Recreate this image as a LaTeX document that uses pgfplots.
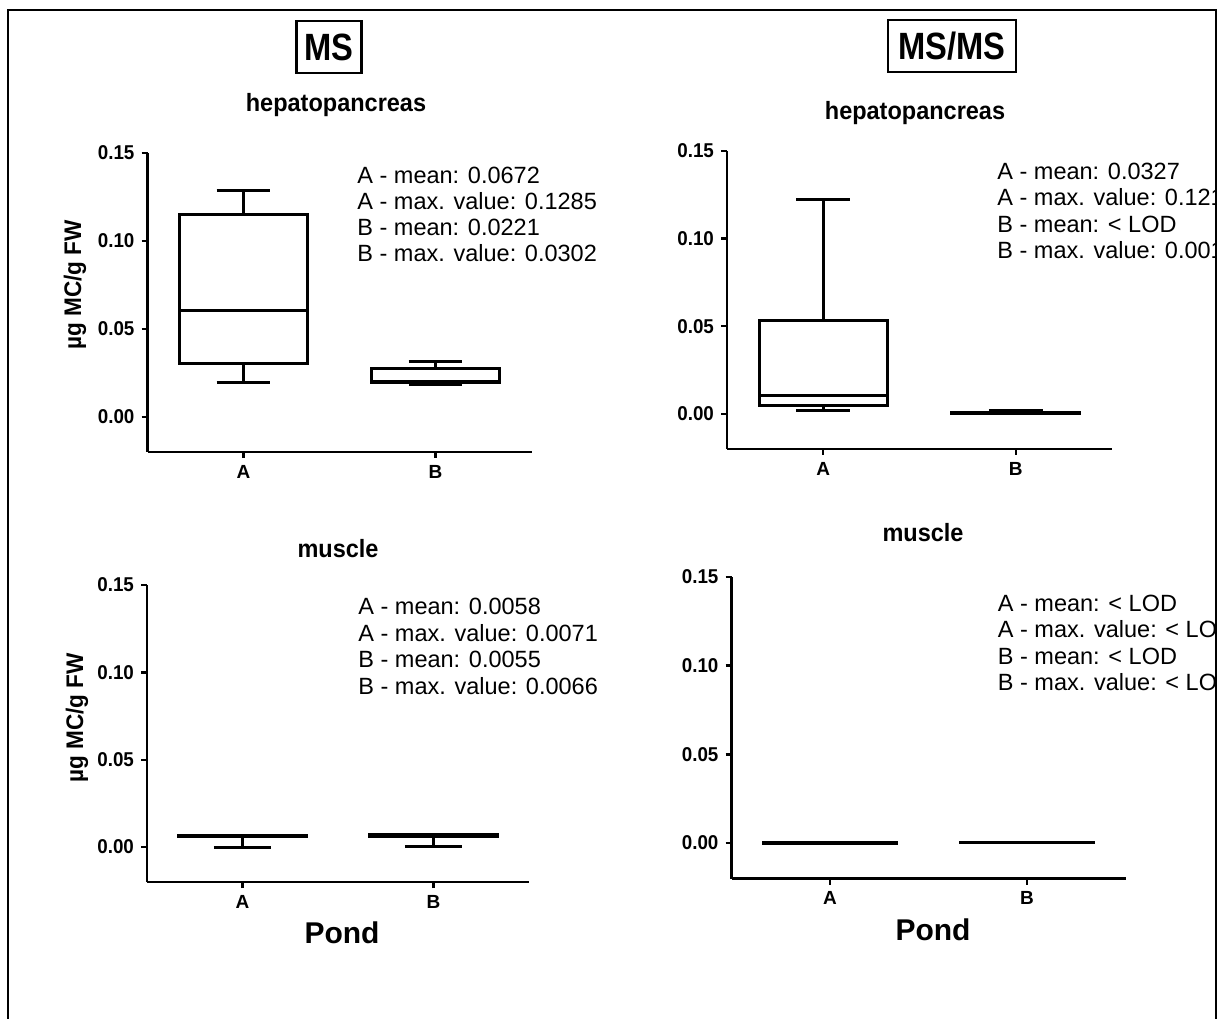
\documentclass[border=0pt]{standalone}
\usepackage{pgfplots}
\pgfplotsset{compat=1.18}
\usepgfplotslibrary{statistics}
\usepackage{fontspec}
\setmainfont{Liberation Sans}
\newfontfamily\condfont[FakeStretch=0.86]{Liberation Sans}
\newfontfamily\titlefont[FakeStretch=0.94]{Liberation Sans}

\pgfplotsset{
  mybox/.style={
    scale only axis,
    axis lines=left,
    axis line style={-, line width=1.2pt},
    xmin=-0.5, xmax=1.5, ymin=-0.02, ymax=0.15,
    xtick={0,1}, xticklabels={A,B},
    ytick={0,0.05,0.1,0.15}, yticklabels={0.00,0.05,0.10,0.15},
    tick align=outside, major tick length=3pt,
    tick style={line width=1.2pt, black},
    yticklabel style={font=\titlefont\bfseries\fontsize{10}{11}\selectfont},
    xticklabel style={font=\bfseries\fontsize{9.5}{10}\selectfont},
    clip=false,
    anchor=south west,
    boxplot/draw direction=y,
  },
  bp/.style={black, line width=1.5pt, solid, mark=none,
    boxplot/every median/.style={black, line width=1.4pt}},
}

\begin{document}
\begin{tikzpicture}
\useasboundingbox (0,0) rectangle (610pt,509pt);
\draw[line width=1pt] (4pt,-2pt) -- (4pt,504pt) -- (608pt,504pt) -- (608pt,-2pt);

% Panel 1: MS hepatopancreas
\begin{axis}[mybox, at={(73.75pt,283pt)}, width=192pt, height=149.5pt]
\addplot[bp, boxplot prepared={draw direction=y, draw position=0, lower whisker=0.0194, lower quartile=0.0305, median=0.0603, upper quartile=0.1152, upper whisker=0.1288, box extend=0.667, whisker extend=0.28}] coordinates {};
\addplot[bp, boxplot prepared={draw direction=y, draw position=1, lower whisker=0.0183, lower quartile=0.0194, median=0.0204, upper quartile=0.0272, upper whisker=0.0312, box extend=0.667, whisker extend=0.28}] coordinates {};
\end{axis}

% Panel 2: MS/MS hepatopancreas
\begin{axis}[mybox, at={(363.5pt,284.5pt)}, width=192.5pt, height=149pt]
\addplot[bp, boxplot prepared={draw direction=y, draw position=0, lower whisker=0.0018, lower quartile=0.0047, median=0.0104, upper quartile=0.0533, upper whisker=0.1222, box extend=0.667, whisker extend=0.28}] coordinates {};
\addplot[bp, boxplot prepared={draw direction=y, draw position=1, lower whisker=0.0, lower quartile=0.0002, median=0.0005, upper quartile=0.0008, upper whisker=0.0017, box extend=0.667, whisker extend=0.28}] coordinates {};
\end{axis}

% Panel 3: MS muscle
\begin{axis}[mybox, at={(73.5pt,68pt)}, width=191pt, height=148.5pt]
\addplot[bp, boxplot prepared={draw direction=y, draw position=0, lower whisker=0.0, lower quartile=0.0060, median=0.0064, upper quartile=0.0068, upper whisker=0.0068, box extend=0.667, whisker extend=0.30}] coordinates {};
\addplot[bp, boxplot prepared={draw direction=y, draw position=1, lower whisker=0.0006, lower quartile=0.0062, median=0.0066, upper quartile=0.0070, upper whisker=0.0070, box extend=0.667, whisker extend=0.30}] coordinates {};
\end{axis}

% Panel 4: MS/MS muscle
\begin{axis}[mybox, at={(365.75pt,69.75pt)}, width=197pt, height=150.75pt]
\addplot[bp, boxplot prepared={draw direction=y, draw position=0, lower whisker=0.0, lower quartile=0.0, median=0.0, upper quartile=0.0001, upper whisker=0.0001, box extend=0.68, whisker extend=0.28}] coordinates {};
\addplot[bp, boxplot prepared={draw direction=y, draw position=1, lower whisker=0.0002, lower quartile=0.0002, median=0.0003, upper quartile=0.0005, upper whisker=0.0005, box extend=0.68, whisker extend=0.28}] coordinates {};
\end{axis}

% Headers
\node[draw, line width=1.2pt, minimum width=32.5pt, minimum height=26pt, inner sep=0pt,
  font=\condfont\bfseries\fontsize{19}{20}\selectfont] at (164.5pt,485.5pt) {MS};
\node[draw, line width=1.2pt, minimum width=64pt, minimum height=26pt, inner sep=0pt,
  font=\condfont\bfseries\fontsize{19}{20}\selectfont] at (476pt,486pt) {MS/MS};

% Titles
\node[font=\titlefont\bfseries\fontsize{12.5}{14}\selectfont] at (168pt,456.5pt) {hepatopancreas};
\node[font=\titlefont\bfseries\fontsize{12.5}{14}\selectfont] at (457.5pt,452.5pt) {hepatopancreas};
\node[font=\titlefont\bfseries\fontsize{12.5}{14}\selectfont] at (169pt,234.5pt) {muscle};
\node[font=\titlefont\bfseries\fontsize{12.5}{14}\selectfont] at (461.5pt,242.5pt) {muscle};

% Y labels
\node[rotate=90, font=\titlefont\bfseries\fontsize{12}{13}\selectfont] at (37.5pt,366.5pt) {µg MC/g FW};
\node[rotate=90, font=\titlefont\bfseries\fontsize{12}{13}\selectfont] at (38.5pt,150pt) {µg MC/g FW};

% X labels
\node[font=\bfseries\fontsize{15}{17}\selectfont] at (171pt,42.5pt) {Pond};
\node[font=\bfseries\fontsize{15}{17}\selectfont] at (466.5pt,44pt) {Pond};

% Annotations (clipped at the frame, as in the reference)
\begin{scope}
\clip (0,0) rectangle (607.5pt,509pt);
\begin{scope}[every node/.style={anchor=base west, inner sep=0pt, font=\fontsize{11.75}{13}\selectfont}]
\node at (178.5pt,417.25pt) {A - mean: 0.0672};
\node at (178.5pt,404.25pt) {A - max. value: 0.1285};
\node at (178.5pt,391.25pt) {B - mean: 0.0221};
\node at (178.5pt,378.25pt) {B - max. value: 0.0302};

\node at (498.5pt,419.25pt) {A - mean: 0.0327};
\node at (498.5pt,406.25pt) {A - max. value: 0.121};
\node at (498.5pt,392.75pt) {B - mean: < LOD};
\node at (498.5pt,379.75pt) {B - max. value: 0.001};

\node at (179pt,201.75pt) {A - mean: 0.0058};
\node at (179pt,188.25pt) {A - max. value: 0.0071};
\node at (179pt,175.25pt) {B - mean: 0.0055};
\node at (179pt,161.75pt) {B - max. value: 0.0066};

\node at (498.75pt,203.25pt) {A - mean: < LOD};
\node at (498.75pt,190.25pt) {A - max. value: < LOD};
\node at (498.75pt,176.75pt) {B - mean: < LOD};
\node at (498.75pt,163.75pt) {B - max. value: < LOD};
\end{scope}
\end{scope}
\end{tikzpicture}
\end{document}
